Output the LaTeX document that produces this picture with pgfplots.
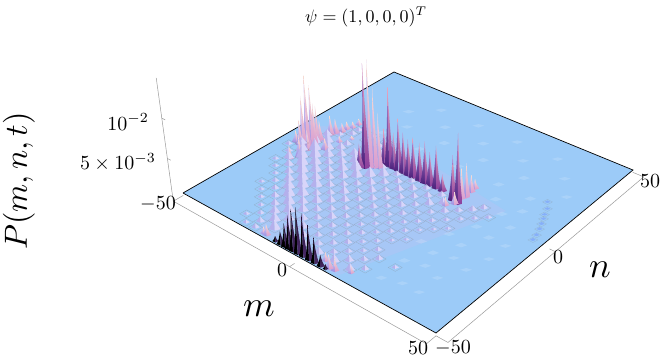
\documentclass[border=0pt]{standalone}
\usepackage{pgfplots}
\usepackage{pgfplotstable}
\pgfplotsset{compat=1.18}

% perspective of the reference: (m,n,P in 10^-3) -> picture position
\newcommand{\W}[2]{(1-0.14874*(#1+50)/100+0.18118*(#2+50)/100)}
\newcommand{\XO}[2]{((188.15*(#1+50)/100+282.38*(#2+50)/100+183)/\W{#1}{#2})}
\newcommand{\SX}[3]{(\XO{#1}{#2}+(\XO{#1}{#2}-450)*0.004*(#3)/\W{#1}{#2})}
\newcommand{\SY}[3]{((90.47*(#1+50)/100-107.95*(#2+50)/100+193-8*(#3))/\W{#1}{#2})}
\pgfplotsset{
  /pgfplots/table/geo/.style={
    x expr={\SX{\thisrow{m}}{\thisrow{n}}{\thisrow{P}}},
    y expr={\SY{\thisrow{m}}{\thisrow{n}}{\thisrow{P}}}},
  gaxis/.style={draw=gray!80,line width=0.5pt,no markers,forget plot}
}

\definecolor{plane}{HTML}{9CCBF8}
\definecolor{aLb}{HTML}{9A8CE0}\definecolor{aLt}{HTML}{E2D8F7}
\definecolor{aRb}{HTML}{D89CD0}\definecolor{aRt}{HTML}{F6DCD4}
\definecolor{bLb}{HTML}{4B1F7A}\definecolor{bLt}{HTML}{B48AD8}
\definecolor{bRb}{HTML}{8A3F9C}\definecolor{bRt}{HTML}{E8A6C0}
\definecolor{cRb}{HTML}{4A2A6A}\definecolor{cRt}{HTML}{241530}
\definecolor{dL}{HTML}{B4B0EC}\definecolor{dR}{HTML}{D8D5F9}
\definecolor{tint}{HTML}{B9C2F4}

% spikes: two faces, concave sides
\newcommand{\spike}[5]{%
  \pgfmathsetmacro{\spWd}{#5*\spW}%
  \shade[draw=none,bottom color=#1,top color=#2] (-\spWd pt,0pt) .. controls (-0.5*\spWd pt,0.25*\spH pt) and (\spL pt*0.5-0.25*\spWd pt,0.55*\spH pt) .. (\spL pt,\spH pt) -- (0pt,-1.5pt) -- cycle;
  \shade[draw=none,bottom color=#3,top color=#4] (\spWd pt,0pt) .. controls (0.5*\spWd pt,0.25*\spH pt) and (\spL pt*0.5+0.25*\spWd pt,0.55*\spH pt) .. (\spL pt,\spH pt) -- (0pt,-1.5pt) -- cycle;}
\pgfdeclareplotmark{spA}{\spike{aLb}{aLt}{aRb}{aRt}{1.15}}
\pgfdeclareplotmark{spB}{\spike{bLb}{bLt}{bRb}{bRt}{1.25}}
\pgfdeclareplotmark{spC}{\spike{black}{black}{cRb}{cRt}{1.1}}
\pgfdeclareplotmark{spD}{%
  \draw[gray,opacity=0.4,line width=0.25pt] (-7pt,0pt) -- (0pt,3.9pt) -- (7pt,0pt) -- (0pt,-3.9pt) -- cycle;
  \fill[draw=none,dL] (-1.6*\spW pt,0pt) -- (\spL pt,\spH pt) -- (0pt,-1.5pt) -- cycle;
  \fill[draw=none,dR] (1.6*\spW pt,0pt) -- (\spL pt,\spH pt) -- (0pt,-1.5pt) -- cycle;}
\pgfdeclareplotmark{spE}{\fill[draw=none,white,opacity=0.15] (-6pt,0pt) -- (\spL pt,\spH pt) -- (6pt,0pt) -- (0pt,-2pt) -- cycle;}
\pgfdeclareplotmark{spF}{%
  \draw[gray,opacity=0.3,line width=0.25pt] (-5pt,0pt) -- (0pt,2.6pt) -- (5pt,0pt) -- (0pt,-2.6pt) -- cycle;
  \fill[draw=none,blue!25!plane,opacity=0.55] (-3pt,0pt) -- (\spL pt,\spH pt) -- (3pt,0pt) -- (0pt,-1pt) -- cycle;}

\pgfplotstableread{
m n P c
-20 40 0.2 e
-4 40 0.2 e
12 40 0.2 e
28 40 0.2 e
-28 32 0.2 e
-12 32 0.25 e
4 32 0.25 e
20 32 0.2 e
36 32 0.2 e
-22 24 0.2 e
-6 24 0.3 e
10 24 0.3 e
26 24 0.3 e
42 24 0.2 e
-26 16 0.2 e
-10 16 0.3 e
6 16 0.3 e
22 16 0.3 e
34 16 0.3 e
26 9 0.3 e
36 9 0.3 e
38 0 0.3 e
32 4 0.3 e
36 -8 0.3 e
30 -6 0.3 e
42 -8 0.2 e
32 -16 0.3 e
26 -14 0.3 e
42 -16 0.2 e
28 -24 0.3 e
22 -22 0.3 e
34 -22 0.2 e
40 -24 0.2 e
24 -32 0.3 e
30 -30 0.25 e
36 -32 0.2 e
30 -40 0.2 e
24 -42 0.25 e
36 -40 0.2 e
39 18 0.2 f
41 15 0.2 f
-35.4 14.7 0.8 a
42 12 0.2 f
-35.7 12 0.8 a
-33 12 0.4 d
-27 12 0.3 d
-21 12 0.2 d
-36.6 10 1 a
43 10 0.2 f
17.6 9.6 1.2 a
-33 9 0.5 d
-27 9 0.5 d
-21 9 0.4 d
-15 9 0.25 d
-36.6 7.7 1.2 a
44 7.5 0.25 f
17.8 7.4 2.1 a
-31.1 6.4 0.4 a
-36 6 0.4 d
-24 6 0.5 d
-18 6 0.5 d
-37.8 5.7 1.9 a
45 5 0.25 f
18.3 4.3 4.2 a
-38.4 3.9 2.5 a
-39 3 0.8 d
-30 3 0.6 d
26 3 0.5 d
17.7 2.6 3.75 a
-33.1 2.5 0.8 a
-13 2 4.6 b
-11 2 10.2 b
-9 2 4.6 b
-7 2 6.7 b
-5 2 5.2 b
-3 2 4.6 b
-1 2 5.1 b
1.6 2 4.8 b
3.8 2 5.3 b
5.8 2 4.2 b
8.3 2 5.4 b
10.7 2 2.1 b
46 2 0.25 f
16.2 0.2 5.6 b
-42 0 0.5 d
-36 0 1.2 d
-30 0 0.8 d
-24 0 0.9 d
-18 0 1 d
-12 0 0.6 d
-6 0 0.5 d
0 0 0.5 d
6 0 0.5 d
12 0 0.6 d
24 0 0.6 d
30 0 0.3 d
-38.9 -0.7 2.6 a
-13 -0.7 7.1 a
46.5 -0.6 0.25 f
18.5 -0.2 8.75 b
17.8 -0.9 1.5 a
-14.1 -1.6 10.4 a
-38.8 -2.3 4.8 a
-15.3 -2.6 14 a
-45 -3 0.4 d
-39 -3 1.6 d
-33 -3 1.3 d
-27 -3 0.9 d
-21 -3 1.2 d
-9 -3 1.1 d
-3 -3 0.6 d
3 -3 0.7 d
9 -3 0.6 d
15 -3 0.8 d
21 -3 0.5 d
27 -3 0.3 d
16.1 -3.3 1 a
-16.3 -3.5 13.5 b
-33.6 -3.8 1.5 a
-38.2 -4.1 5.5 a
-17.7 -4.6 3.1 b
-38.2 -5.3 8.1 a
-39.3 -6.3 9.4 a
-41 -6.5 6.5 a
-44 -6.6 1.5 a
-41.8 -7.1 3.3 a
-37.7 -7.7 2.6 a
-42 -6 0.9 d
-36 -6 1.5 d
-30 -6 1.1 d
-24 -6 0.8 d
-18 -6 1.5 d
-12 -6 1.2 d
-6 -6 0.7 d
0 -6 0.7 d
6 -6 0.6 d
12 -6 0.8 d
18 -6 0.6 d
24 -6 0.3 d
-45 -9 0.4 d
-39 -9 1.4 d
-33 -9 1.5 d
-27 -9 0.8 d
-21 -9 1.1 d
-15 -9 1.3 d
-9 -9 0.8 d
-3 -9 0.5 d
3 -9 0.6 d
9 -9 0.5 d
15 -9 0.4 d
21 -9 0.3 d
-42 -12 0.4 d
-36.8 -12.4 2.9 a
-36 -12 1.6 d
-30 -12 1.3 d
-24 -12 0.7 d
-18 -12 0.9 d
-12 -12 0.6 d
-6 -12 0.8 d
0 -12 0.5 d
6 -12 0.6 d
12 -12 0.4 d
18 -12 0.3 d
24 -12 0.2 d
-38.6 -15.1 1.7 a
-39 -15 0.9 d
-33 -15 1.7 d
-27 -15 1.2 d
-21 -15 0.8 d
-15 -15 0.6 d
-9 -15 0.5 d
-3 -15 0.7 d
3 -15 0.4 d
9 -15 0.5 d
15 -15 0.3 d
21 -15 0.2 d
-42 -18 0.3 d
-36 -18 0.8 d
-30 -18 1.6 d
-24 -18 1 d
-18 -18 0.7 d
-12 -18 0.9 d
-6 -18 0.5 d
0 -18 0.6 d
6 -18 0.4 d
12 -18 0.3 d
18 -18 0.2 d
-39 -21 0.3 d
-33 -21 0.8 d
-27 -21 1.4 d
-21 -21 1.3 d
-15 -21 0.6 d
-9 -21 0.8 d
-3 -21 0.4 d
3 -21 0.5 d
9 -21 0.3 d
15 -21 0.3 d
-36 -24 0.3 d
-30 -24 1 d
-24 -24 1.7 d
-18 -24 0.7 d
-12 -24 0.8 d
-6 -24 0.5 d
0 -24 0.4 d
6 -24 0.3 d
12 -24 0.4 d
18 -24 0.2 d
-33 -27 0.4 d
-27 -27 1.2 d
-21 -27 1.3 d
-15 -27 1 d
-9 -27 0.6 d
-3 -27 0.5 d
3 -27 0.3 d
9 -27 0.3 d
15 -27 0.2 d
-36 -30 0.25 d
-30 -30 0.5 d
-24 -30 1.5 d
-18 -30 0.9 d
-12 -30 0.7 d
-6 -30 0.8 d
0 -30 0.4 d
6 -30 0.4 d
12 -30 0.3 d
-33 -33 0.25 d
-27 -33 0.6 d
-21 -33 1.4 d
-15 -33 1 d
-9 -33 0.6 d
-3 -33 0.5 d
3 -33 0.5 d
9 -33 0.3 d
15 -33 0.4 d
-30 -36 0.3 d
-24 -36 0.7 d
-18 -36 1.3 d
-12 -36 0.7 d
-6 -36 0.6 d
0 -36 0.4 d
6 -36 0.5 d
12 -36 0.3 d
18 -36 0.5 d
24 -36 0.3 d
-27 -39 0.3 d
-21 -39 0.9 d
-15 -39 1 d
-9 -39 0.8 d
-3 -39 0.5 d
3 -39 0.5 d
9 -39 0.4 d
15 -39 0.5 d
-24 -42 0.4 d
-18 -42 1.1 d
-12 -42 1 d
-6 -42 0.7 d
0 -42 0.6 d
6 -42 0.5 d
12 -42 0.7 d
18 -42 0.5 d
-27 -45 0.3 d
-21 -45 0.6 d
-15 -45 1.2 d
-9 -45 0.9 d
-3 -45 0.9 d
3 -45 0.8 d
9 -45 0.9 d
15 -45 0.8 d
16 -45.7 0.8 a
6.8 -46.3 1 a
11.9 -47.9 1.5 a
10 -48.2 1.6 a
-24 -48 0.3 d
-20 -48 0.5 d
-16 -48.5 0.8 a
-14.8 -48.5 1.3 a
-10.7 -49 0.6 c
-8.5 -49 1.5 c
-6.7 -49 2.7 c
-5.1 -49 3.9 c
-3.5 -49 4.9 c
-1.6 -49 5.4 c
0.66 -49 5 c
2.9 -49 4 c
5.1 -49 2.9 c
7.45 -49 1.3 c
9.3 -49 0.5 c
}\spikes

\begin{document}
\begin{tikzpicture}[every node/.style={inner sep=0pt,outer sep=0pt}]
\begin{axis}[
    scale only axis,
    width=662pt,height=359pt,
    xmin=0,xmax=662,ymin=0,ymax=359,
    y dir=reverse,
    hide axis,
    clip=false
]
% invisible frame, keeps the page at the reference's size
\addplot[draw=none,forget plot] coordinates {(0,0) (662,359)};

% box lines, ticks
\addplot[gaxis] table[geo] {
m n P
-50 -54 -0.3
-50 -54 15
};
\addplot[gaxis] table[geo] {
m n P
-50 -54 5
-48.5 -54 5
};
\addplot[gaxis] table[geo] {
m n P
-50 -54 10
-48.5 -54 10
};
\addplot[gaxis] table[geo] {
m n P
-50 -54 -0.3
50 -54 -0.3
};
\addplot[gaxis] table[geo] {
m n P
-50 -54 -0.3
-50 -50 -0.3
};
\addplot[gaxis] table[geo] {
m n P
0 -54 -0.3
0 -52 -0.3
};
\addplot[gaxis] table[geo] {
m n P
50 -54 -0.3
50 -50 -0.3
};
\addplot[gaxis] table[geo] {
m n P
54 -50 -0.3
54 50 -0.3
};
\addplot[gaxis] table[geo] {
m n P
54 -50 -0.3
50 -50 -0.3
};
\addplot[gaxis] table[geo] {
m n P
54 0 -0.3
52 0 -0.3
};
\addplot[gaxis] table[geo] {
m n P
54 50 -0.3
50 50 -0.3
};

% the plane P = 0
\addplot[fill=plane,draw=black,line width=0.7pt,forget plot] table[geo] {
m n P
-50 -50 0
50 -50 0
50 50 0
-50 50 0
-50 -50 0
};
% paler wedge under the low peaks
\addplot[fill=tint,draw=none,opacity=0.4,forget plot] table[geo] {
m n P
-47 4 0
-30 16 0
32 6 0
14 -49 0
-18 -49 0
-47 4 0
};

% peaks, back to front
\addplot[
    scatter,only marks,
    scatter src=explicit symbolic,
    scatter/classes={
      a={mark=spA},b={mark=spB},c={mark=spC},
      d={mark=spD},e={mark=spE},f={mark=spF}},
    visualization depends on={8*\thisrow{P}/\W{\thisrow{m}}{\thisrow{n}} \as \spH},
    visualization depends on={(\XO{\thisrow{m}}{\thisrow{n}}-450)*0.003*\thisrow{P}/\W{\thisrow{m}}{\thisrow{n}} \as \spL},
    visualization depends on={min(3.8,1.8+1.6*\thisrow{P}) \as \spW},
] table[x expr={\XO{\thisrow{m}}{\thisrow{n}}},
        y expr={\SY{\thisrow{m}}{\thisrow{n}}{0}},
        meta=c] {\spikes};

\node[scale=1.8] at (axis cs:366,17) {$\psi=(1,0,0,0)^{T}$};
\node[scale=3.2,rotate=90] at (axis cs:19,181) {$P(m,n,t)$};
\node[scale=3.6] at (axis cs:259,309) {$m$};
\node[scale=3.6] at (axis cs:600,270) {$n$};
\node[scale=2] at (axis cs:128,122) {$10^{-2}$};
\node[scale=2] at (axis cs:118,162) {$5\times 10^{-3}$};
\node[scale=2] at (axis cs:158,204) {$-50$};
\node[scale=2] at (axis cs:282,270) {$0$};
\node[scale=2] at (axis cs:418,348) {$50$};
\node[scale=2] at (axis cs:453,348) {$-50$};
\node[scale=2] at (axis cs:558,257) {$0$};
\node[scale=2] at (axis cs:650,181) {$50$};
\end{axis}
\end{tikzpicture}
\end{document}
